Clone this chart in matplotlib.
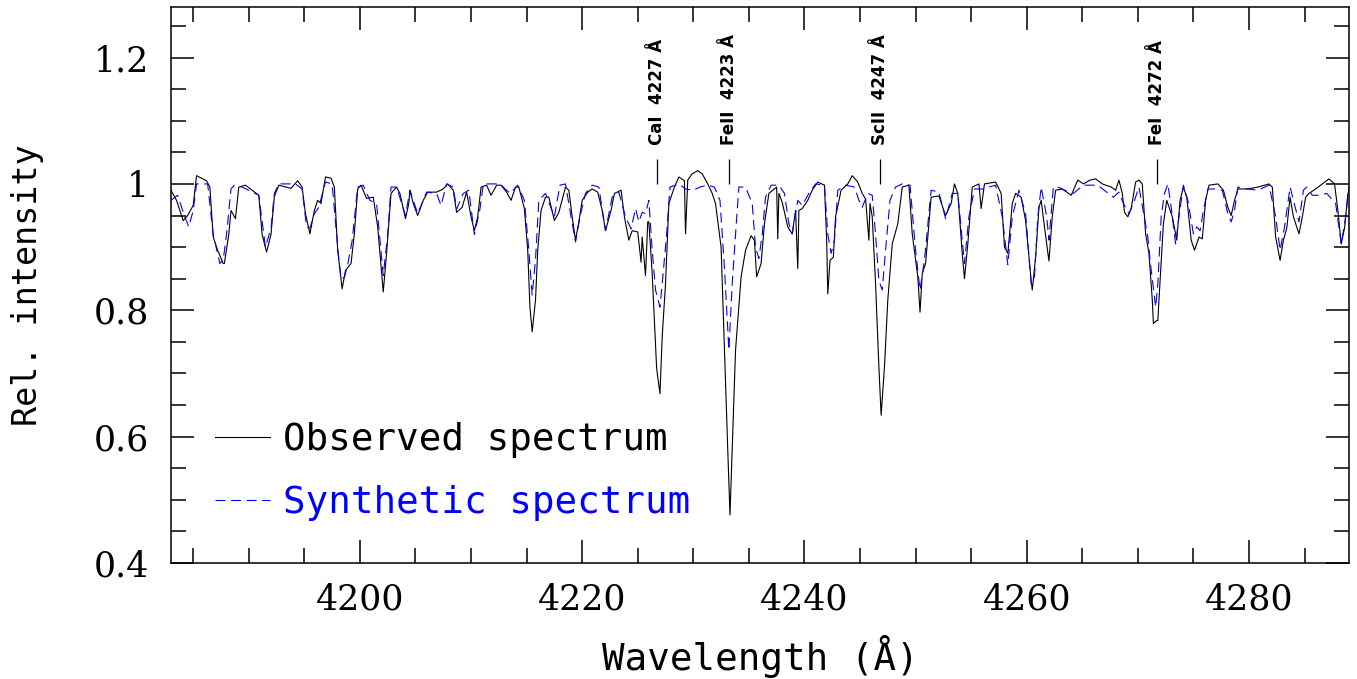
import matplotlib.pyplot as plt
from matplotlib.ticker import MultipleLocator, FuncFormatter

# ------------------------------------------------------------------------------------------------
# Data
# ------------------------------------------------------------------------------------------------
# Observed spectrum
obs_wl = [4183.0, 4183.5, 4184.1, 4184.5, 4185.0, 4185.3, 4186.2, 4186.5, 4186.8, 4187.2,
          4187.7, 4187.8, 4188.2, 4188.4, 4188.8, 4189.1, 4189.7, 4190.9, 4191.2, 4191.6,
          4192.0, 4192.3, 4192.7, 4193.8, 4194.4, 4194.8, 4195.1, 4195.5, 4195.9, 4196.2,
          4196.5, 4196.9, 4197.4, 4197.7, 4198.0, 4198.4, 4198.7, 4199.2, 4199.5, 4199.8,
          4200.1, 4200.6, 4201.2, 4201.6, 4202.1, 4202.4, 4202.8, 4203.3, 4203.6, 4204.1,
          4204.4, 4204.5, 4204.8, 4205.2, 4205.7, 4206.1, 4206.9, 4207.5, 4207.9, 4208.4,
          4208.7, 4209.2, 4209.6, 4210.0, 4210.3, 4210.6, 4210.9, 4211.4, 4211.8, 4212.3,
          4212.7, 4213.2, 4213.6, 4214.0, 4214.3, 4214.8, 4215.1, 4215.3, 4215.5, 4215.8,
          4216.0, 4216.3, 4216.7, 4217.0, 4217.5, 4217.9, 4218.5, 4218.8, 4219.1, 4219.4,
          4219.7, 4220.0, 4220.5, 4220.9, 4221.4, 4221.8, 4222.1, 4222.6, 4222.9, 4223.5,
          4223.8, 4224.2, 4224.5, 4225.0, 4225.3, 4225.4, 4225.7, 4225.9, 4226.0, 4226.3,
          4226.7, 4227.0, 4227.2, 4227.5, 4227.8, 4228.3, 4228.7, 4229.2, 4229.3, 4229.5,
          4229.9, 4230.4, 4230.8, 4231.3, 4231.7, 4232.0, 4232.5, 4232.8, 4233.1, 4233.3,
          4233.5, 4233.8, 4234.3, 4234.7, 4235.2, 4235.5, 4235.7, 4236.1, 4236.4, 4236.8,
          4237.3, 4237.5, 4237.6, 4237.7, 4238.0, 4238.5, 4238.9, 4239.2, 4239.4, 4239.5,
          4239.8, 4240.3, 4240.7, 4241.2, 4241.8, 4242.0, 4242.1, 4242.3, 4242.6, 4242.8,
          4243.3, 4243.9, 4244.3, 4244.8, 4245.2, 4245.5, 4245.8, 4245.9, 4246.1, 4246.4,
          4246.7, 4246.9, 4247.2, 4247.5, 4247.9, 4248.4, 4248.8, 4249.4, 4249.7, 4250.2,
          4250.4, 4250.6, 4250.9, 4251.4, 4252.1, 4252.7, 4253.2, 4253.5, 4253.8, 4254.2,
          4254.4, 4254.7, 4255.1, 4255.7, 4255.9, 4256.2, 4257.2, 4257.7, 4258.0, 4258.3,
          4258.7, 4259.0, 4259.5, 4259.9, 4260.4, 4260.5, 4260.8, 4261.1, 4261.3, 4261.6,
          4262.0, 4262.3, 4262.6, 4263.2, 4264.0, 4264.6, 4265.1, 4265.7, 4266.2, 4266.8,
          4267.6, 4268.0, 4268.3, 4268.6, 4268.8, 4269.1, 4269.4, 4269.8, 4270.1, 4270.4,
          4270.7, 4271.0, 4271.3, 4271.4, 4271.7, 4271.8, 4271.9, 4272.3, 4272.6, 4273.1,
          4273.5, 4273.8, 4274.1, 4274.4, 4274.8, 4275.1, 4275.5, 4275.8, 4276.1, 4276.4,
          4277.2, 4277.7, 4278.1, 4278.4, 4278.7, 4279.0, 4279.9, 4280.8, 4281.8, 4282.1,
          4282.4, 4282.8, 4283.1, 4283.4, 4283.7, 4284.0, 4284.5, 4284.8, 4285.1, 4285.4,
          4286.0, 4286.6, 4287.2, 4287.7, 4288.0, 4288.3, 4288.6, 4288.9]
obs_flux = [0.990, 0.974, 0.942, 0.950, 0.966, 1.013, 1.005, 0.995, 0.916, 0.895,
            0.874, 0.874, 0.920, 0.958, 0.945, 0.995, 0.998, 0.982, 0.920, 0.892,
            0.920, 0.980, 0.998, 0.993, 1.005, 0.995, 0.953, 0.921, 0.958, 0.974,
            0.969, 1.011, 1.009, 0.995, 0.895, 0.834, 0.863, 0.874, 0.921, 0.992,
            0.998, 0.977, 0.979, 0.932, 0.829, 0.890, 0.985, 0.995, 0.985, 0.945,
            0.969, 0.990, 0.969, 0.950, 0.974, 0.987, 0.987, 0.992, 1.000, 0.990,
            0.955, 0.963, 0.987, 0.948, 0.926, 0.948, 0.995, 0.998, 0.982, 0.998,
            0.998, 0.987, 0.974, 0.995, 0.995, 0.961, 0.895, 0.805, 0.766, 0.816,
            0.895, 0.958, 0.979, 0.979, 0.942, 0.955, 0.995, 0.990, 0.948, 0.911,
            0.940, 0.974, 0.987, 0.992, 0.987, 0.958, 0.926, 0.958, 0.985, 0.990,
            0.948, 0.911, 0.926, 0.924, 0.876, 0.916, 0.855, 0.940, 0.940, 0.858,
            0.708, 0.668, 0.758, 0.842, 0.969, 0.995, 1.011, 1.005, 0.921, 1.006,
            1.016, 1.021, 1.016, 1.000, 0.985, 0.969, 0.900, 0.737, 0.579, 0.476,
            0.579, 0.737, 0.853, 0.895, 0.918, 0.911, 0.853, 0.874, 0.937, 0.985,
            0.992, 0.995, 0.913, 0.985, 0.971, 0.932, 0.921, 0.958, 0.866, 0.958,
            0.961, 0.974, 0.990, 1.003, 0.998, 0.911, 0.826, 0.879, 0.884, 0.948,
            0.990, 1.000, 1.013, 1.003, 0.985, 0.976, 0.911, 0.969, 0.948, 0.842,
            0.710, 0.634, 0.710, 0.816, 0.905, 0.937, 0.995, 0.998, 0.921, 0.853,
            0.797, 0.858, 0.874, 0.979, 0.981, 0.950, 0.969, 1.000, 0.985, 0.890,
            0.850, 0.905, 0.995, 1.000, 0.961, 1.000, 1.003, 0.985, 0.900, 0.890,
            0.969, 0.985, 0.979, 0.942, 0.847, 0.832, 0.884, 0.963, 0.974, 0.932,
            0.878, 0.948, 0.990, 0.992, 0.982, 1.006, 1.000, 1.006, 1.008, 1.000,
            0.995, 0.990, 1.006, 0.985, 0.955, 0.948, 0.961, 1.003, 1.006, 1.000,
            0.921, 0.890, 0.816, 0.779, 0.784, 0.784, 0.816, 0.937, 0.974, 0.948,
            0.911, 0.974, 0.995, 0.979, 0.911, 0.895, 0.916, 0.913, 0.974, 0.998,
            1.000, 0.990, 0.963, 0.950, 0.974, 0.992, 0.992, 0.995, 1.000, 0.995,
            0.916, 0.879, 0.911, 0.930, 0.979, 0.948, 0.921, 0.948, 0.979, 0.985,
            0.992, 1.000, 1.008, 1.000, 0.958, 0.905, 0.930, 0.985]

# Synthetic spectrum
syn_wl = [4183.0, 4183.6, 4184.2, 4184.6, 4185.0, 4185.3, 4186.3, 4186.8, 4187.4, 4187.7,
          4188.0, 4188.4, 4188.7, 4189.4, 4190.9, 4191.5, 4192.0, 4192.3, 4192.7, 4194.2,
          4194.8, 4195.2, 4195.5, 4195.9, 4196.3, 4196.9, 4197.5, 4198.0, 4198.3, 4198.6,
          4198.9, 4199.3, 4199.8, 4200.3, 4200.9, 4201.5, 4202.1, 4202.5, 4202.8, 4203.3,
          4204.1, 4204.5, 4205.2, 4206.0, 4206.9, 4207.3, 4207.8, 4208.4, 4208.7, 4209.3,
          4209.8, 4210.3, 4210.8, 4211.1, 4212.6, 4213.5, 4214.2, 4214.8, 4215.2, 4215.5,
          4215.8, 4216.1, 4216.7, 4217.5, 4218.0, 4218.5, 4218.9, 4219.4, 4219.8, 4220.3,
          4220.9, 4221.5, 4222.1, 4222.7, 4223.3, 4223.9, 4224.4, 4224.8, 4225.1, 4225.4,
          4225.7, 4226.0, 4226.3, 4226.6, 4227.0, 4227.2, 4227.6, 4227.9, 4228.7, 4229.3,
          4230.0, 4230.6, 4231.3, 4231.9, 4232.4, 4232.8, 4233.2, 4233.5, 4233.8, 4234.1,
          4234.7, 4235.3, 4235.6, 4235.9, 4236.2, 4236.5, 4237.0, 4237.7, 4238.2, 4238.6,
          4238.9, 4239.4, 4239.8, 4240.4, 4241.0, 4241.8, 4242.1, 4242.4, 4242.7, 4243.0,
          4243.7, 4244.5, 4244.9, 4245.2, 4245.7, 4246.1, 4246.4, 4246.7, 4247.0, 4247.3,
          4247.7, 4248.2, 4248.8, 4249.5, 4250.0, 4250.4, 4250.8, 4251.4, 4252.1, 4252.7,
          4253.3, 4253.8, 4254.4, 4254.8, 4255.3, 4256.0, 4257.2, 4257.8, 4258.3, 4258.7,
          4259.3, 4259.9, 4260.4, 4260.7, 4261.0, 4261.3, 4261.8, 4262.0, 4262.4, 4262.8,
          4263.8, 4264.2, 4265.1, 4266.4, 4267.2, 4267.8, 4268.3, 4268.7, 4269.2, 4269.6,
          4270.1, 4270.9, 4271.1, 4271.6, 4271.8, 4272.1, 4272.4, 4272.7, 4273.0, 4273.4,
          4273.7, 4274.1, 4274.5, 4275.0, 4275.3, 4275.6, 4275.9, 4276.3, 4276.9, 4277.6,
          4278.1, 4278.4, 4278.7, 4279.0, 4279.9, 4280.8, 4281.8, 4282.4, 4282.8, 4283.2,
          4283.7, 4284.0, 4284.5, 4284.9, 4285.2, 4285.7, 4286.3, 4287.0, 4287.8, 4288.3,
          4288.7, 4289.0]
syn_flux = [0.974, 0.982, 0.950, 0.932, 0.958, 1.000, 1.000, 0.920, 0.874, 0.880,
            0.920, 0.992, 0.998, 0.995, 0.982, 0.900, 0.930, 0.985, 1.000, 1.000,
            0.992, 0.932, 0.930, 0.953, 0.963, 1.003, 1.000, 0.900, 0.850, 0.852,
            0.872, 0.910, 0.995, 0.998, 0.974, 0.969, 0.855, 0.920, 0.995, 0.995,
            0.950, 0.990, 0.953, 0.987, 0.985, 0.966, 1.000, 0.995, 0.960, 0.985,
            0.990, 0.920, 0.960, 1.000, 1.000, 0.985, 0.998, 0.974, 0.895, 0.824,
            0.880, 0.974, 0.985, 0.948, 0.998, 1.000, 0.958, 0.908, 0.948, 0.985,
            0.998, 0.995, 0.926, 0.979, 0.987, 0.948, 0.929, 0.961, 0.940, 0.955,
            0.953, 0.974, 0.895, 0.832, 0.805, 0.842, 0.920, 0.995, 1.000, 0.992,
            0.990, 0.995, 0.998, 0.995, 0.974, 0.868, 0.737, 0.842, 0.920, 0.995,
            0.995, 0.969, 0.900, 0.882, 0.920, 0.979, 0.998, 0.998, 0.985, 0.937,
            0.921, 0.974, 0.966, 0.985, 1.000, 0.998, 0.921, 0.890, 0.911, 0.990,
            0.998, 0.995, 0.974, 0.963, 0.985, 0.982, 0.920, 0.847, 0.832, 0.895,
            0.974, 0.995, 1.000, 0.998, 0.895, 0.832, 0.880, 0.990, 0.987, 0.945,
            0.985, 0.985, 0.874, 0.948, 0.992, 0.992, 0.998, 0.948, 0.872, 0.948,
            0.990, 0.953, 0.842, 0.853, 0.948, 0.995, 0.948, 0.911, 0.995, 0.995,
            0.987, 0.985, 0.998, 0.998, 0.987, 0.979, 0.987, 0.969, 0.953, 0.969,
            0.995, 0.916, 0.879, 0.805, 0.842, 0.948, 0.985, 1.000, 0.963, 0.905,
            0.948, 0.998, 0.974, 0.921, 0.932, 0.926, 0.958, 0.992, 0.992, 0.990,
            0.953, 0.940, 0.958, 0.995, 0.992, 0.990, 0.998, 0.948, 0.895, 0.932,
            0.995, 0.974, 0.940, 0.990, 0.995, 0.982, 0.982, 0.985, 0.969, 0.905,
            0.948, 0.995]

# Identified lines
line_wl = [4226.73, 4233.17, 4246.82, 4271.76]
line_labels = ['CaI  4227 Å', 'FeII  4223 Å', 'ScII  4247 Å', 'FeI  4272 Å']

# ------------------------------------------------------------------------------------------------
# Figure
# ------------------------------------------------------------------------------------------------
fig = plt.figure(figsize=(13.57, 6.79), dpi=100)
ax = fig.add_axes([0.126, 0.1708, 0.8681, 0.8189])

ax.plot(obs_wl, obs_flux, color='black', lw=0.8, label='Observed spectrum')
ax.plot(syn_wl, syn_flux, color='blue', lw=0.8, dashes=(9, 5), label='Synthetic spectrum')

# Line markers and labels
ax.vlines(line_wl, 1.0, 1.04, color='black', lw=0.9)
for wl, lab in zip(line_wl, line_labels):
    ax.text(wl, 1.062, lab, rotation=90, ha='center', va='bottom',
            fontsize=12, fontweight='bold', family='DejaVu Sans')

ax.set_xlim(4183, 4289)
ax.set_ylim(0.4, 1.28)

# Ticks
ax.xaxis.set_major_locator(MultipleLocator(20))
ax.xaxis.set_minor_locator(MultipleLocator(5))
ax.yaxis.set_major_locator(MultipleLocator(0.2))
ax.yaxis.set_minor_locator(MultipleLocator(0.05))
ax.yaxis.set_major_formatter(FuncFormatter(lambda v, p: '%g' % round(v, 2)))
ax.tick_params(which='both', direction='in', top=True, right=True, width=1.1)
ax.tick_params(which='major', length=16.5)
ax.tick_params(which='minor', length=10.5)
ax.tick_params(axis='x', pad=14)
ax.tick_params(axis='y', pad=16)
for lab in ax.get_xticklabels() + ax.get_yticklabels():
    lab.set_family('DejaVu Serif')
    lab.set_fontsize(25)
for s in ax.spines.values():
    s.set_linewidth(1.1)

# Axis labels
ax.set_xlabel('Wavelength (Å)', family='DejaVu Sans Mono', fontsize=27)
ax.set_ylabel('Rel. intensity', family='DejaVu Sans Mono', fontsize=24)
ax.xaxis.set_label_coords(0.5, -0.13)
ax.yaxis.set_label_coords(-0.108, 0.5)

# Legend
leg = ax.legend(loc='upper left', bbox_to_anchor=(0.037, 0.254), frameon=False,
                prop={'family': 'DejaVu Sans Mono', 'size': 27},
                handlelength=1.47, handletextpad=0.35, labelspacing=0.72,
                borderpad=0, borderaxespad=0)
for txt, col in zip(leg.get_texts(), ['black', 'blue']):
    txt.set_color(col)

fig.savefig('out.png', dpi=100)
